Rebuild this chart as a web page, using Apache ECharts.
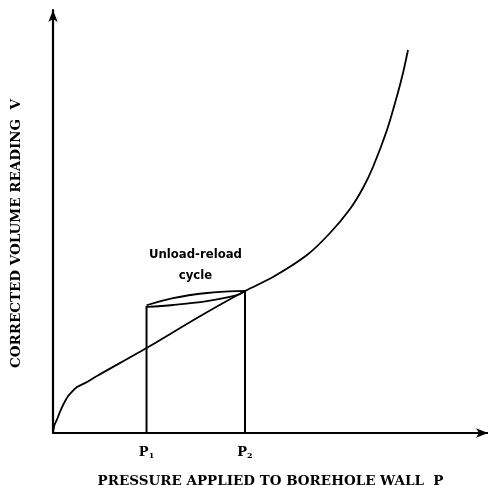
<!DOCTYPE html>
<html>
<head>
<meta charset="utf-8">
<script src="https://cdn.jsdelivr.net/npm/echarts@6/dist/echarts.min.js"></script>
<style>
  html, body { margin: 0; padding: 0; background: #fff; }
  #chart { width: 488px; height: 485px; }
</style>
</head>
<body>
<div id="chart"></div>
<script>
// loading curve V(P)
const loadCurve = [
  [0, 0], [0.34, 1.9], [0.92, 3.2], [1.6, 5.0], [2.4, 6.8], [3.45, 8.7], [4.5, 9.9], [5.52, 10.87],
  [7.82, 12.06], [10.11, 13.48], [22.3, 20.57], [33.1, 27.2], [44.14, 33.57],
  [50.57, 36.88], [58.39, 42.08], [63.68, 47.28], [68.28, 52.96], [71.26, 57.92],
  [73.56, 62.88], [76.78, 71.63], [79.08, 79.67], [80.46, 85.11], [81.61, 90.54]
]
// unload-reload cycle between P1 and P2
const unloadArc = [[21.5, 30.2], [27.6, 31.9], [35.4, 33.1], [42.3, 33.55], [44.14, 33.57]]
const reloadArc = [[21.5, 29.8], [27.6, 30.26], [35.4, 31.2], [42.3, 32.6], [44.14, 33.57]]
const p1Line = [[21.5, 0], [21.5, 30.0]]
const p2Line = [[44.14, 0], [44.14, 33.57]]
const pTicks = [21.5, 44.14]
const pSubs = ['1', '2']
const note = [[32.75, 39.6]]

const chart = echarts.init(document.getElementById('chart'))

const lineStyle = { color: '#000', width: 1.8 }
const serif = 'DejaVu Serif'

const option = {
  animation: false,
  grid: { left: 53, right: 0, top: 10, bottom: 52, outerBoundsMode: 'none', containLabel: false },
  xAxis: {
    type: 'value',
    min: 0,
    max: 100,
    name: 'PRESSURE APPLIED TO BOREHOLE WALL  P',
    nameLocation: 'middle',
    nameGap: 41,
    nameTextStyle: { fontFamily: serif, fontWeight: 'bold', fontSize: 13.5, color: '#000' },
    axisLine: { lineStyle: { color: '#000', width: 2.2 }, symbol: ['none', 'arrow'], symbolSize: [7, 12] },
    axisTick: { show: false },
    splitLine: { show: false },
    axisLabel: {
      customValues: pTicks,
      margin: 12,
      formatter: (v) => '{p|P}{s|' + pSubs[pTicks.indexOf(v)] + '}',
      rich: {
        p: { fontFamily: serif, fontWeight: 'bold', fontSize: 13, color: '#000' },
        s: { fontFamily: serif, fontWeight: 'bold', fontSize: 8, color: '#000', verticalAlign: 'bottom', padding: [7, 0, 0, 0] }
      }
    }
  },
  yAxis: {
    type: 'value',
    min: 0,
    max: 100,
    name: 'CORRECTED VOLUME READING  V',
    nameLocation: 'middle',
    nameRotate: 90,
    nameGap: 30,
    nameTextStyle: { fontFamily: serif, fontWeight: 'bold', fontSize: 13.5, color: '#000', padding: [0, 24, 0, 0] },
    axisLine: { lineStyle: { color: '#000', width: 2.2 }, symbol: ['none', 'arrow'], symbolSize: [7, 12] },
    axisTick: { show: false },
    axisLabel: { show: false },
    splitLine: { show: false }
  },
  series: [
    { type: 'line', data: loadCurve, smooth: 0.3, symbol: 'none', lineStyle },
    { type: 'line', data: unloadArc, smooth: 0.35, symbol: 'none', lineStyle },
    { type: 'line', data: reloadArc, smooth: 0.35, symbol: 'none', lineStyle },
    { type: 'line', data: p1Line, symbol: 'none', lineStyle: { color: '#000', width: 2 } },
    { type: 'line', data: p2Line, symbol: 'none', lineStyle: { color: '#000', width: 2 } },
    {
      type: 'scatter',
      data: note,
      symbolSize: 0,
      itemStyle: { opacity: 1 },
      label: {
        show: true,
        position: 'inside',
        formatter: 'Unload-reload\ncycle',
        fontFamily: '"DejaVu Sans Condensed"',
        fontWeight: 'bold',
        fontSize: 13,
        lineHeight: 21,
        color: '#000',
        opacity: 1,
        textBorderWidth: 0
      }
    }
  ]
}

chart.setOption(option)
</script>
</body>
</html>
